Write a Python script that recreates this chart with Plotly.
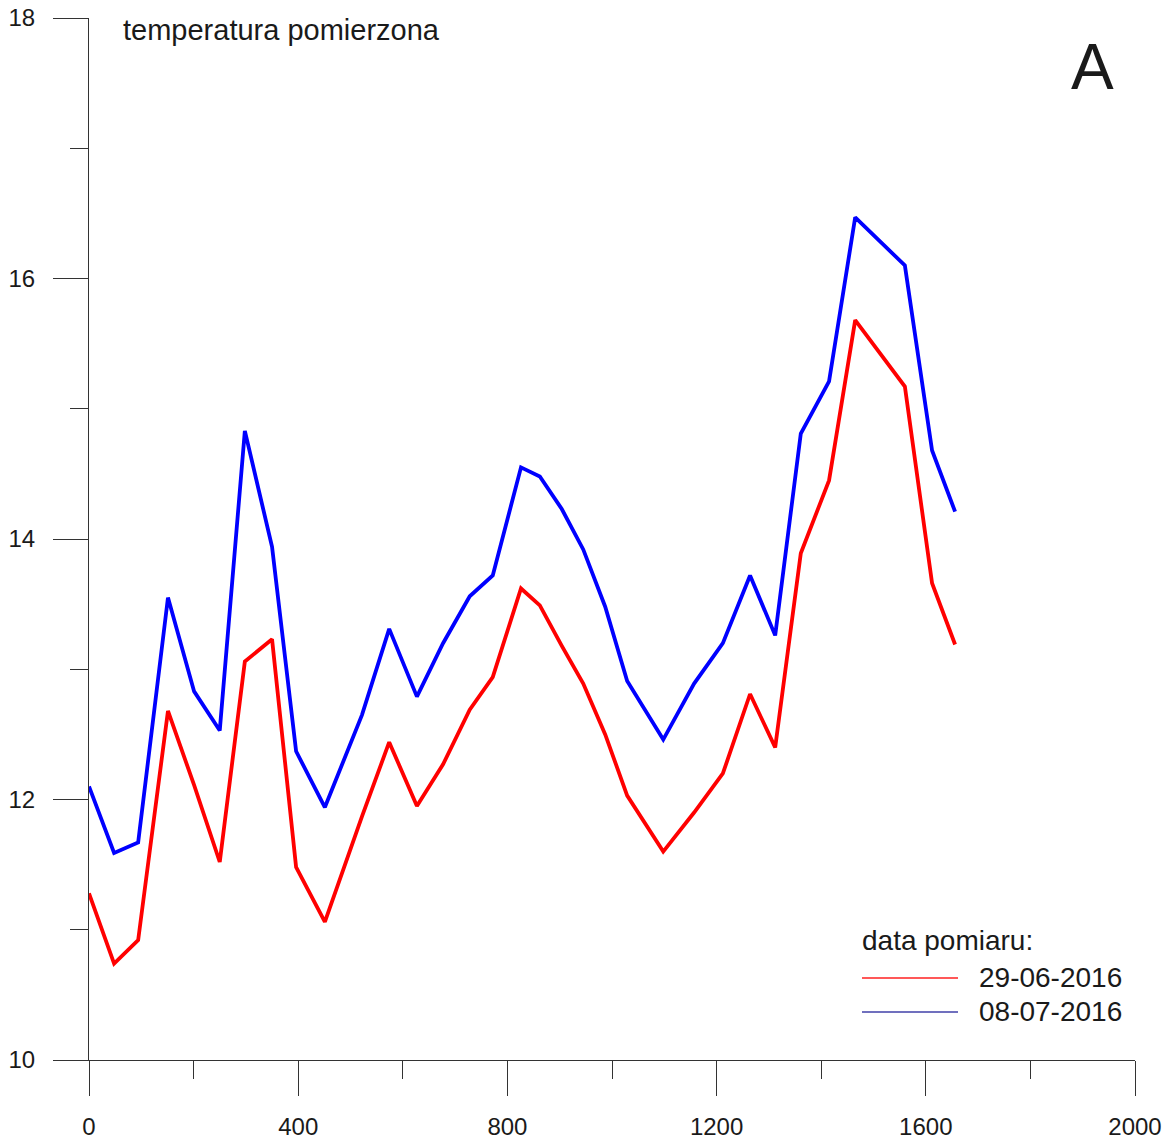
import plotly.graph_objects as go

# distance along profile
dist = [0, 48, 94, 151, 201, 250, 298, 350, 396, 451, 522, 574, 627, 677, 728, 772,
        826, 862, 904, 945, 987, 1029, 1098, 1157, 1212, 1264, 1312, 1361, 1415, 1465,
        1560, 1612, 1656]

temp_29_06 = [11.28, 10.74, 10.92, 12.68, 12.11, 11.52, 13.06, 13.23, 11.48, 11.06, 11.87,
              12.44, 11.95, 12.27, 12.69, 12.94, 13.62, 13.49, 13.18, 12.89, 12.50, 12.03,
              11.60, 11.90, 12.20, 12.81, 12.40, 13.89, 14.45, 15.68, 15.17, 13.66, 13.19]

temp_08_07 = [12.10, 11.59, 11.67, 13.55, 12.83, 12.53, 14.83, 13.94, 12.37, 11.94, 12.65,
              13.31, 12.79, 13.20, 13.56, 13.72, 14.55, 14.48, 14.23, 13.92, 13.48, 12.91,
              12.46, 12.89, 13.20, 13.72, 13.26, 14.81, 15.21, 16.47, 16.10, 14.68, 14.21]

series_names = ["29-06-2016", "08-07-2016"]
x_ticks = [0, 400, 800, 1200, 1600, 2000]
y_ticks = [10, 12, 14, 16, 18]

FONT = "Liberation Sans, Arial, sans-serif"
TXT = "#1a1a1a"
AX = "#333333"

fig = go.Figure()
fig.add_trace(go.Scatter(x=dist, y=temp_29_06, mode="lines", name=series_names[0],
                         line=dict(color="#ff0000", width=3.8), showlegend=False))
fig.add_trace(go.Scatter(x=dist, y=temp_08_07, mode="lines", name=series_names[1],
                         line=dict(color="#0000ff", width=3.8), showlegend=False))

fig.update_layout(
    width=1173, height=1139,
    margin=dict(l=89, r=38, t=18, b=79),
    paper_bgcolor="white", plot_bgcolor="white",
    font=dict(family=FONT, color=TXT),
    xaxis=dict(range=[0, 2000], tickvals=x_ticks, ticktext=[str(v) for v in x_ticks],
               automargin=False,
               showgrid=False, zeroline=False, showline=True, linecolor=AX, linewidth=1,
               ticks="outside", ticklen=35, tickwidth=1, tickcolor=AX,
               tickfont=dict(size=24, family=FONT, color=TXT), ticklabelstandoff=10,
               minor=dict(dtick=200, tick0=0, ticks="outside", ticklen=18, tickwidth=1,
                          tickcolor=AX, showgrid=False)),
    yaxis=dict(range=[10, 18], tickvals=y_ticks, ticktext=[str(v) for v in y_ticks],
               automargin=False,
               showgrid=False, zeroline=False, showline=True, linecolor=AX, linewidth=1,
               ticks="outside", ticklen=35, tickwidth=1, tickcolor=AX,
               tickfont=dict(size=24, family=FONT, color=TXT), ticklabelstandoff=13,
               minor=dict(dtick=1, tick0=10, ticks="outside", ticklen=18, tickwidth=1,
                          tickcolor=AX, showgrid=False)),
)

fig.add_annotation(x=0.031, y=0.9885, xref="paper", yref="paper", xanchor="left",
                   yanchor="middle", text="temperatura pomierzona", showarrow=False,
                   font=dict(size=29, family=FONT, color=TXT))
fig.add_annotation(x=0.959, y=0.953, xref="paper", yref="paper", xanchor="center",
                   yanchor="middle", text="A", showarrow=False,
                   font=dict(size=64, family=FONT, color=TXT))

# legend drawn manually
fig.add_annotation(x=0.737, y=0.115, xref="paper", yref="paper", xanchor="left",
                   yanchor="middle", text="data pomiaru:", showarrow=False,
                   font=dict(size=28, family=FONT, color=TXT))
leg_colors = ["#ff2020", "#4040a8"]
leg_y = [0.0787, 0.0461]
for name, col, yy in zip(series_names, leg_colors, leg_y):
    fig.add_shape(type="line", xref="paper", yref="paper", x0=0.739, x1=0.8308, y0=yy, y1=yy,
                  line=dict(color=col, width=1.5))
    fig.add_annotation(x=0.849, y=yy, xref="paper", yref="paper", xanchor="left",
                       yanchor="middle", text=name, showarrow=False,
                       font=dict(size=28, family=FONT, color=TXT))

fig.write_html("out.html")
